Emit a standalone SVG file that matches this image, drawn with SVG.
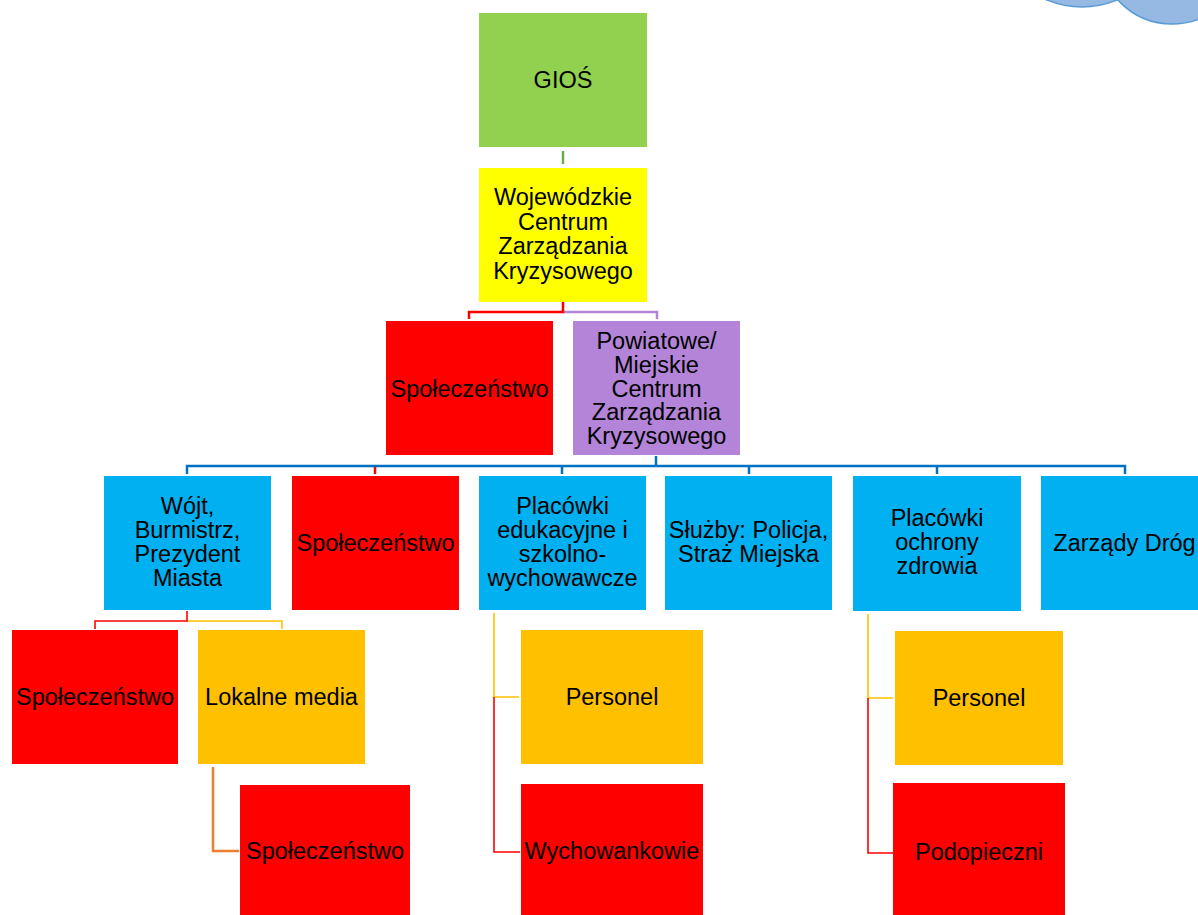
<svg xmlns="http://www.w3.org/2000/svg" width="1198" height="915" viewBox="0 0 1198 915">
<style>
text{font-family:"Liberation Sans",Arial,sans-serif;font-size:23.5px;fill:#000;text-anchor:middle}
.c{fill:none;stroke-linejoin:miter}
.blue{stroke:#0070c0;stroke-width:2.5}
.red{stroke:#ff0000;stroke-width:2.5}
.redt{stroke:#ff0000;stroke-width:1.6}
.gold{stroke:#ffc000;stroke-width:1.6}
.purp{stroke:#b384d8;stroke-width:2.5}
.green{stroke:#70ad47;stroke-width:2.5}
.orange{stroke:#ed7d31;stroke-width:2.5}
.g{fill:#92d050}.y{fill:#ffff00}.r{fill:#ff0000}.p{fill:#b384d8}.b{fill:#00b0f0}.o{fill:#ffc000}
.circ{fill:#95b9e3;stroke:#5b9bd5;stroke-width:1.5}
</style>
<rect width="1198" height="915" fill="#fff"/>
<g id="decor">
<circle class="circ" cx="1082" cy="-84" r="91"/>
<circle class="circ" cx="1172" cy="-49" r="73"/>
</g>
<g id="connectors">
<path class="c green" d="M563,151 V164"/>
<path class="c purp" d="M563,312 H657 V319"/>
<path class="c red" d="M563,302 V312 H469 V319"/>
<path class="c red" d="M375,466 V474"/>
<path class="c blue" d="M656,456 V466 M187,474 V466 H1125 V474 M562,466 V474 M749,466 V474 M937,466 V474"/>
<path class="c gold" d="M187,621 H282 V629"/>
<path class="c redt" d="M187,611 V621 H95 V629"/>
<path class="c gold" d="M494,613 V697 H519"/>
<path class="c redt" d="M494,697 V852 H520"/>
<path class="c gold" d="M868,614 V698 H893"/>
<path class="c redt" d="M868,698 V853 H893"/>
<path class="c orange" d="M213,767 V851 H239"/>
</g>
<g id="n-gios"><rect class="g" x="479" y="13" width="168" height="134"/><text x="563" y="88">GIOŚ</text></g>
<g id="n-wczk"><rect class="y" x="479" y="168" width="168" height="134"/>
<text x="563" y="205">Wojewódzkie</text><text x="563" y="229.5">Centrum</text><text x="563" y="254">Zarządzania</text><text x="563" y="278.5">Kryzysowego</text></g>
<g id="n-spol1"><rect class="r" x="386" y="321" width="167" height="134"/><text x="469.5" y="397">Społeczeństwo</text></g>
<g id="n-pczk"><rect class="p" x="573" y="321" width="167" height="134"/>
<text x="656.5" y="349">Powiatowe/</text><text x="656.5" y="373">Miejskie</text><text x="656.5" y="396.5">Centrum</text><text x="656.5" y="420">Zarządzania</text><text x="656.5" y="443.5">Kryzysowego</text></g>
<g id="n-wojt"><rect class="b" x="104" y="476" width="167" height="134"/>
<text x="187.5" y="514">Wójt,</text><text x="187.5" y="538">Burmistrz,</text><text x="187.5" y="562">Prezydent</text><text x="187.5" y="586">Miasta</text></g>
<g id="n-spol2"><rect class="r" x="292" y="476" width="167" height="134"/><text x="375.5" y="551">Społeczeństwo</text></g>
<g id="n-edu"><rect class="b" x="479" y="476" width="167" height="134"/>
<text x="562.5" y="514">Placówki</text><text x="562.5" y="538">edukacyjne i</text><text x="562.5" y="562">szkolno-</text><text x="562.5" y="586">wychowawcze</text></g>
<g id="n-sluzby"><rect class="b" x="665" y="476" width="167" height="134"/>
<text x="748.5" y="538">Służby: Policja,</text><text x="748.5" y="562">Straż Miejska</text></g>
<g id="n-zdrowie"><rect class="b" x="853" y="476" width="168" height="135"/>
<text x="937" y="526">Placówki</text><text x="937" y="550">ochrony</text><text x="937" y="574">zdrowia</text></g>
<g id="n-drogi"><rect class="b" x="1041" y="476" width="167" height="134"/><text x="1124.5" y="551">Zarządy Dróg</text></g>
<g id="n-spol3"><rect class="r" x="12" y="630" width="166" height="134"/><text x="95" y="705">Społeczeństwo</text></g>
<g id="n-media"><rect class="o" x="198" y="630" width="167" height="134"/><text x="281.5" y="705">Lokalne media</text></g>
<g id="n-spol4"><rect class="r" x="240" y="785" width="170" height="134"/><text x="325" y="859">Społeczeństwo</text></g>
<g id="n-pers1"><rect class="o" x="521" y="630" width="182" height="134"/><text x="612" y="705">Personel</text></g>
<g id="n-wych"><rect class="r" x="521" y="784" width="182" height="134"/><text x="612" y="859">Wychowankowie</text></g>
<g id="n-pers2"><rect class="o" x="895" y="631" width="168" height="134"/><text x="979" y="706">Personel</text></g>
<g id="n-podop"><rect class="r" x="893" y="783" width="172" height="135"/><text x="979" y="860">Podopieczni</text></g>
</svg>
